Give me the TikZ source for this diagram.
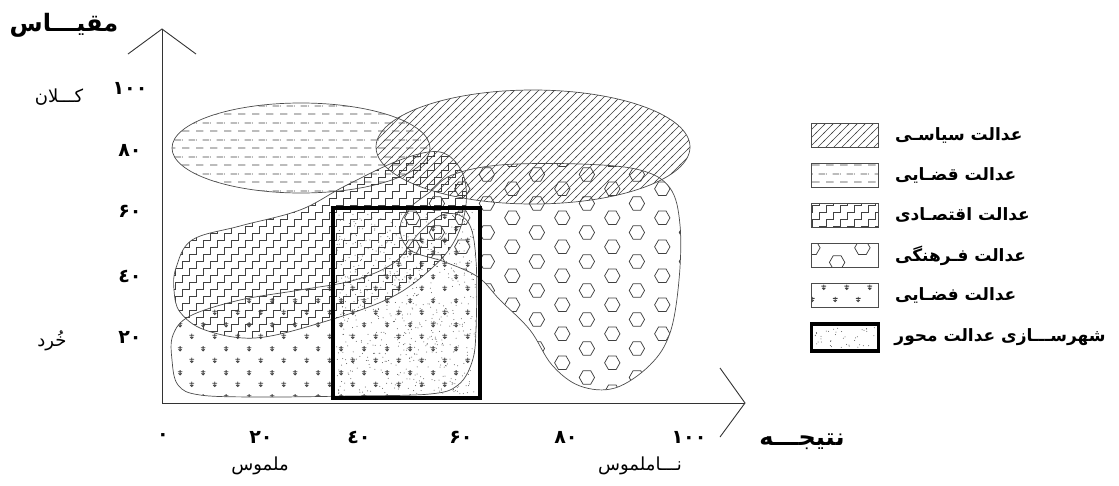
\documentclass[tikz,border=0pt]{standalone}
\usepackage{fontspec}
\newfontfamily\farsifont[Script=Arabic]{DejaVu Sans}
\TeXXeTstate=1
\usetikzlibrary{patterns, positioning}

\newcommand\hexglyph{%
  \pgfpathmoveto{\pgfpointpolar{0}{7.8pt}}%
  \pgfpathlineto{\pgfpointpolar{60}{7.8pt}}%
  \pgfpathlineto{\pgfpointpolar{120}{7.8pt}}%
  \pgfpathlineto{\pgfpointpolar{180}{7.8pt}}%
  \pgfpathlineto{\pgfpointpolar{240}{7.8pt}}%
  \pgfpathlineto{\pgfpointpolar{300}{7.8pt}}%
  \pgfpathclose}
\newcommand\starglyph{%
  \pgfpathmoveto{\pgfqpoint{0pt}{2.6pt}}\pgfpathlineto{\pgfqpoint{0pt}{-2.4pt}}%
  \pgfpathmoveto{\pgfqpoint{-2.4pt}{1pt}}\pgfpathlineto{\pgfqpoint{2.4pt}{1pt}}%
  \pgfpathmoveto{\pgfqpoint{-1.7pt}{-0.7pt}}\pgfpathlineto{\pgfqpoint{0pt}{-2.4pt}}%
  \pgfpathlineto{\pgfqpoint{1.7pt}{-0.7pt}}}

\pgfdeclarepatternformonly{hatchlines}{\pgfqpoint{-1pt}{-1pt}}{\pgfqpoint{9pt}{9pt}}{\pgfqpoint{8pt}{8pt}}{%
  \pgfsetlinewidth{0.6pt}%
  \pgfpathmoveto{\pgfqpoint{-1pt}{-1pt}}\pgfpathlineto{\pgfqpoint{9pt}{9pt}}%
  \pgfusepath{stroke}}
\pgfdeclarepatternformonly{dashrows}{\pgfqpoint{0pt}{0pt}}{\pgfqpoint{14pt}{16.6pt}}{\pgfqpoint{14pt}{16.6pt}}{%
  \pgfsetlinewidth{0.7pt}%
  \pgfpathmoveto{\pgfqpoint{0pt}{4pt}}\pgfpathlineto{\pgfqpoint{8pt}{4pt}}%
  \pgfpathmoveto{\pgfqpoint{7pt}{12.3pt}}\pgfpathlineto{\pgfqpoint{14pt}{12.3pt}}%
  \pgfpathmoveto{\pgfqpoint{0pt}{12.3pt}}\pgfpathlineto{\pgfqpoint{1pt}{12.3pt}}%
  \pgfusepath{stroke}}
\pgfdeclarepatternformonly{stairs}{\pgfqpoint{-1pt}{-1pt}}{\pgfqpoint{15pt}{15pt}}{\pgfqpoint{14pt}{14pt}}{%
  \pgfsetlinewidth{0.65pt}%
  \pgfpathmoveto{\pgfqpoint{0pt}{0pt}}\pgfpathlineto{\pgfqpoint{7pt}{0pt}}%
  \pgfpathlineto{\pgfqpoint{7pt}{7pt}}\pgfpathlineto{\pgfqpoint{14pt}{7pt}}%
  \pgfpathlineto{\pgfqpoint{14pt}{14pt}}%
  \pgfusepath{stroke}}
\pgfdeclarepatternformonly{hexcells}{\pgfqpoint{0pt}{0pt}}{\pgfqpoint{50pt}{28.8pt}}{\pgfqpoint{50pt}{28.8pt}}{%
  \pgfsetlinewidth{0.75pt}%
  \begin{pgfscope}\pgftransformshift{\pgfqpoint{12.5pt}{7.2pt}}\hexglyph\pgfusepath{stroke}\end{pgfscope}%
  \begin{pgfscope}\pgftransformshift{\pgfqpoint{37.5pt}{21.6pt}}\hexglyph\pgfusepath{stroke}\end{pgfscope}}
\pgfdeclarepatternformonly{stardots}{\pgfqpoint{0pt}{0pt}}{\pgfqpoint{23.4pt}{24pt}}{\pgfqpoint{23.4pt}{24pt}}{%
  \pgfsetlinewidth{0.8pt}%
  \begin{pgfscope}\pgftransformshift{\pgfqpoint{5.85pt}{6pt}}\starglyph\pgfusepath{stroke}\end{pgfscope}%
  \begin{pgfscope}\pgftransformshift{\pgfqpoint{17.55pt}{18pt}}\starglyph\pgfusepath{stroke}\end{pgfscope}}

\tikzset{
  region/.style    = {draw=black!70, line width=0.7pt, pattern color=black!75},
  axisline/.style  = {draw=black!80, line width=0.9pt},
  axistitle/.style = {font=\farsifont\bfseries\fontsize{24}{28}\selectfont, inner sep=0pt},
  ticklabel/.style = {font=\farsifont\bfseries\fontsize{19}{22}\selectfont, inner sep=0pt},
  endlabel/.style  = {font=\farsifont\fontsize{18}{22}\selectfont, inner sep=0pt},
  keybox/.style    = {draw=black!70, line width=0.7pt, minimum width=67pt,
                      minimum height=24pt, pattern color=black!75},
  keytext/.style   = {font=\farsifont\bfseries\fontsize{17}{20}\selectfont, inner sep=0pt},
  hubbox/.style    = {draw=black, line width=3.5pt},
  stipple/.style   = {fill=black!65},
}

\begin{document}
\begin{tikzpicture}[x=1pt, y=-1pt]
  \useasboundingbox (0,0) rectangle (1119,485);

  % justice regions
  \draw[region, pattern=dashrows] (301,148) ellipse [x radius=129pt, y radius=45pt];
  \draw[region, pattern=hatchlines] (533,147) ellipse [x radius=157pt, y radius=57pt];
  \draw[region, pattern=hexcells] plot[smooth cycle, tension=0.6] coordinates {
    (452,175) (500,165) (580,164) (640,170) (670,188) (680,225) (679,280)
    (670,333) (650,365) (615,388) (580,386) (552,365) (530,330) (500,300)
    (478,277) (445,262) (410,250) (400,228) (410,208) (430,192)};
  \draw[region, pattern=stairs] plot[smooth cycle, tension=0.6] coordinates {
    (176,268) (192,240) (240,226) (300,210) (345,186) (400,160) (440,152)
    (462,172) (466,205) (455,240) (432,268) (390,298) (320,323) (255,338)
    (205,330) (180,312) (174,290)};
  \draw[region, pattern=stardots] plot[smooth cycle, tension=0.6] coordinates {
    (173,335) (190,316) (240,300) (300,290) (355,280) (395,262) (420,232)
    (445,214) (468,222) (476,260) (476,330) (472,362) (458,385) (430,394)
    (350,396) (260,397) (200,395) (178,385) (172,360)};

  \node[hubbox, minimum width=147pt, minimum height=190pt] (hub) at (406.5,303) {};
  \pgfmathsetseed{42}
  \foreach \i in {1,...,700}
    \fill[stipple] (hub.center) ++(rand*70,rand*91) circle (0.5pt);

  % axes
  \coordinate (origin) at (162,403);
  \coordinate (ytip) at (162,29);
  \coordinate (xtip) at (745,403);
  \coordinate (yarmL) at (128,54);
  \coordinate (yarmR) at (196,54);
  \coordinate (xarmU) at (720,368);
  \coordinate (xarmD) at (720,437);
  \draw[axisline] (ytip) -- (origin) -- (xtip);
  \draw[axisline] (yarmL) -- (ytip) -- (yarmR);
  \draw[axisline] (xarmU) -- (xtip) -- (xarmD);

  \node[axistitle] (scaletitle) at (64,25) {\beginR مقیـــاس\endR};
  \node[axistitle] (resulttitle) at (802,442) {\beginR نتیجـــه\endR};

  \foreach \lab/\yy [count=\k] in {۱۰۰/88, ۸۰/150, ۶۰/211, ٤۰/276, ۲۰/337}
    \node[ticklabel] (ytick\k) at (130,\yy) {\lab};
  \foreach \lab/\xx [count=\k] in {۰/163, ۲۰/261, ٤۰/359, ۶۰/461, ۸۰/566, ۱۰۰/689}
    \node[ticklabel] (xtick\k) at (\xx,437) {\lab};

  \node[endlabel] (large) at (59,97) {\beginR کـــلان\endR};
  \node[endlabel] (small) at (52,341) {\beginR خُرد\endR};
  \node[endlabel] (tangible) at (260,466) {\beginR ملموس\endR};
  \node[endlabel] (intangible) at (640,466) {\beginR نـــاملموس\endR};

  % legend
  \node[keybox, pattern=hatchlines] (key1) at (845,135) {};
  \node[keybox, pattern=dashrows, below=15.5pt of key1] (key2) {};
  \node[keybox, pattern=stairs, below=15.5pt of key2] (key3) {};
  \node[keybox, pattern=hexcells, below=15.5pt of key3] (key4) {};
  \node[keybox, pattern=stardots, below=15.5pt of key4] (key5) {};
  \node[keybox, draw=black, line width=3.5pt, minimum height=27pt, below=14pt of key5] (key6) {};
  \foreach \i in {1,...,40}
    \fill[stipple] (key6.center) ++(rand*30,rand*10) circle (0.5pt);

  \node[keytext, right=16pt of key1] (text1) {\beginR عدالت سیاسـی\endR};
  \node[keytext, right=16pt of key2] (text2) {\beginR عدالت قضـایی\endR};
  \node[keytext, right=16pt of key3] (text3) {\beginR عدالت اقتصـادی\endR};
  \node[keytext, right=16pt of key4] (text4) {\beginR عدالت فـرهنگی\endR};
  \node[keytext, right=16pt of key5] (text5) {\beginR عدالت فضـایی\endR};
  \node[keytext, right=14pt of key6] (text6) {\beginR شهرســـازی عدالت محور\endR};
\end{tikzpicture}
\end{document}
